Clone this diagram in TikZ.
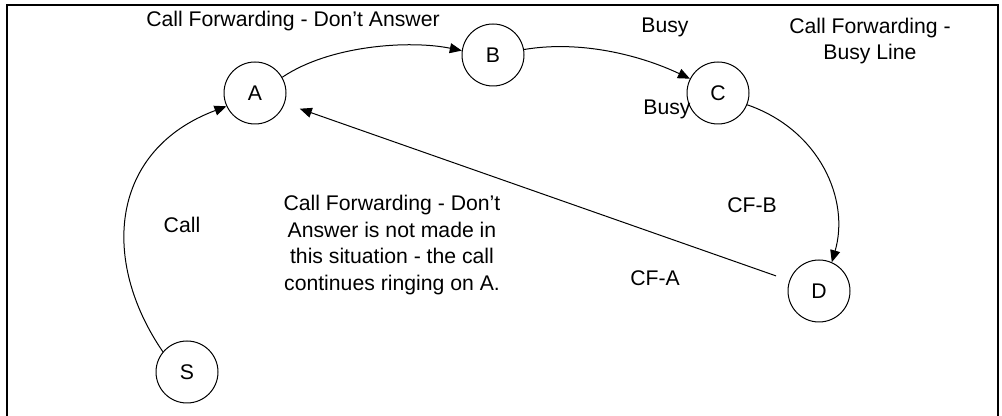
\documentclass[tikz,border=0pt]{standalone}
\usepackage{fontspec}
\setmainfont{Liberation Sans}
\usetikzlibrary{arrows.meta}
\tikzset{
  state/.style={circle,draw,line width=0.5pt,minimum size=31pt,inner sep=0pt,
                font=\fontsize{10.6}{13}\selectfont},
  arrow/.style={-{Triangle[length=6pt,width=5pt]},line width=0.5pt},
  lbl/.style={font=\fontsize{10.6}{13.2}\selectfont,align=center,inner sep=0pt},
}
\begin{document}
\begin{tikzpicture}[x=0.5pt,y=-0.5pt]
        \useasboundingbox (0,0) rectangle (1002,416);
        % frame
        \draw[line width=1pt] (7,430) -- (7,5) -- (998,5) -- (998,430);
        % states
        \node[state] (A) at (255,93) {A};
        \node[state] (B) at (493,55) {B};
        \node[state] (C) at (718,93) {C};
        \node[state] (D) at (819,291) {D};
        \node[state] (S) at (187,372) {S};
        % transitions
        \draw[arrow] (S.140) .. controls (100,260) and (110,150) .. (A.205);
        \draw[arrow] (A.30) .. controls (330,45) and (410,40) .. (B.172);
        \draw[arrow] (B.10) .. controls (580,40) and (640,55) .. (C.153);
        \draw[arrow] (C.-22) .. controls (820,130) and (850,200) .. (D.66);
        \draw[arrow,shorten <=7pt,shorten >=8pt] (D) -- (A);
        % labels
        \node[lbl] (cfda) at (293,21) {Call Forwarding - Don’t Answer};
        \node[lbl] (busy1) at (665,27) {Busy};
        \node[lbl] (cfbl) at (870,41) {Call Forwarding -\\Busy Line};
        \node[lbl] (busy2) at (667,109) {Busy};
        \node[lbl] (call) at (182,225) {Call};
        \node[lbl] (note) at (392,245) {Call Forwarding - Don’t\\Answer is not made in\\this situation - the call\\continues ringing on A.};
        \node[lbl] (cfb) at (752,205) {CF-B};
        \node[lbl] (cfa) at (655,278) {CF-A};
      \end{tikzpicture}
\end{document}
